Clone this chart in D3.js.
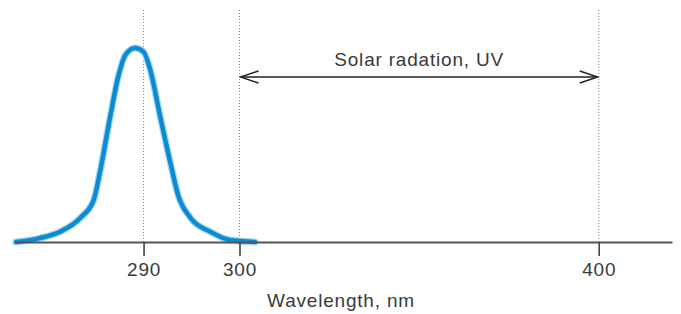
<!DOCTYPE html>
<html lang="en">
<head>
    <meta charset="utf-8">
    <title>Wavelength, nm</title>
    <script src="https://cdn.jsdelivr.net/npm/d3@7"></script>
    <style>
        body { margin: 0; background: #fff; }
        svg text { font-family: "Liberation Sans", Arial, sans-serif; fill: #3a3a3a; letter-spacing: 0.8px; }
    </style>
</head>
<body>
<svg width="681" height="314"></svg>
<script>
    // spectrum curve (nm, relative intensity)
    var wavelengths = [276.7, 279.2, 281.3, 283.4, 284.8, 285.5, 286.5, 287.4, 288.1, 289.1, 290.0, 290.7, 291.7, 292.8, 293.6, 294.9, 297.0, 299.0, 304.3];
    var intensity   = [0.00, 0.02, 0.053, 0.124, 0.216, 0.371, 0.64, 0.86, 0.964, 1.00, 0.98, 0.887, 0.655, 0.407, 0.242, 0.124, 0.052, 0.01, 0.00];
    var tickValues = [290, 300, 400];
    var uvRange = [300, 400];
    var uvLabel = "Solar radation, UV";
    var axisLabel = "Wavelength, nm";

    var svg = d3.select("svg");

    // axis is broken: 290-300 is drawn much wider than 300-400
    var x = d3.scaleLinear()
        .domain([276.6, 300, 420.4])
        .range([15, 239.5, 672]);
    var y = d3.scaleLinear()
        .domain([0, 1])
        .range([242, 48]);

    // dotted guide lines
    svg.append("g")
        .selectAll("line")
        .data(tickValues)
        .enter().append("line")
        .attr("x1", function(d) { return x(d); })
        .attr("x2", function(d) { return x(d); })
        .attr("y1", 10)
        .attr("y2", y(0))
        .attr("stroke", "#8a8a8a")
        .attr("stroke-width", 1)
        .attr("stroke-dasharray", "1,2");

    // spectrum
    var pts = wavelengths.map(function(w, i) { return [w, intensity[i]]; });
    var line = d3.line()
        .x(function(d) { return x(d[0]); })
        .y(function(d) { return y(d[1]); })
        .curve(d3.curveMonotoneX);

    svg.append("path")
        .datum(pts)
        .attr("d", line)
        .attr("fill", "none")
        .attr("stroke", "#a8d6f0")
        .attr("stroke-width", 7)
        .attr("stroke-linecap", "round");
    svg.append("path")
        .datum(pts)
        .attr("d", line)
        .attr("fill", "none")
        .attr("stroke", "#0a8bd2")
        .attr("stroke-width", 4.5)
        .attr("stroke-linecap", "round");

    // x axis
    var axis = svg.append("g")
        .attr("transform", "translate(0," + y(0) + ")")
        .call(d3.axisBottom(x).tickValues(tickValues).tickSize(14).tickSizeOuter(0).tickPadding(7));
    axis.select(".domain").attr("stroke", "#555").attr("stroke-width", 2);
    axis.selectAll(".tick line").attr("stroke", "#444").attr("stroke-width", 1.6);
    axis.selectAll(".tick text")
        .attr("font-size", 19)
        .attr("font-family", null)
        .attr("fill", "#3a3a3a");

    svg.append("text")
        .attr("x", 341)
        .attr("y", 307)
        .attr("text-anchor", "middle")
        .attr("font-size", 19)
        .text(axisLabel);

    // UV range arrow
    var ay = 77;
    var x0 = x(uvRange[0]) + 1, x1 = x(uvRange[1]) - 1;
    var g = svg.append("g").attr("stroke", "#222").attr("fill", "none").attr("stroke-width", 1.4);
    g.append("line").attr("x1", x0).attr("x2", x1).attr("y1", ay).attr("y2", ay);
    g.append("path").attr("d", "M" + (x0 + 18) + "," + (ay - 6) + "L" + x0 + "," + ay + "L" + (x0 + 18) + "," + (ay + 6));
    g.append("path").attr("d", "M" + (x1 - 18) + "," + (ay - 6) + "L" + x1 + "," + ay + "L" + (x1 - 18) + "," + (ay + 6));

    svg.append("text")
        .attr("x", (x0 + x1) / 2)
        .attr("y", 66)
        .attr("text-anchor", "middle")
        .attr("font-size", 19)
        .text(uvLabel);
</script>
</body>
</html>
